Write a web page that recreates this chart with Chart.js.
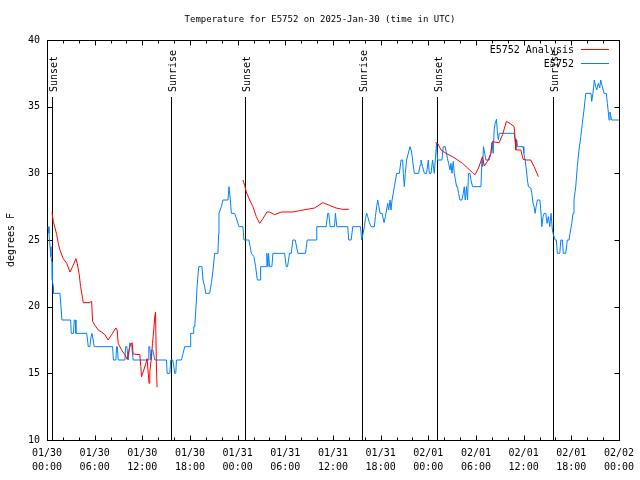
<!DOCTYPE html>
<html>
<head>
<meta charset="utf-8">
<script src="https://cdn.jsdelivr.net/npm/chart.js@4"></script>
<style>
  html, body { margin: 0; padding: 0; background: #fff; }
  canvas { display: block; }
</style>
</head>
<body>
<canvas id="c" width="640" height="480"></canvas>
<script>
// ---- data (hours since 2025-01-30 00:00 UTC) ----
const tickDays = ['01/30','01/30','01/30','01/30','01/31','01/31','01/31','01/31','02/01','02/01','02/01','02/01','02/02'];
const tickTimes = ['00:00','06:00','12:00','18:00','00:00','06:00','12:00','18:00','00:00','06:00','12:00','18:00','00:00'];

const eventHours = [0.67, 15.67, 24.97, 39.67, 49.05, 63.75];
const eventLabels = ['Sunset','Sunrise','Sunset','Sunrise','Sunset','Sunrise'];

const obsHours = [0.13,0.25,0.38,0.50,0.63,0.67,0.79,0.82,1.63,1.76,1.88,2.98,3.05,3.33,3.43,3.56,3.64,4.99,5.11,5.19,5.40,5.53,5.65,5.82,5.94,8.26,8.36,8.67,8.76,8.86,8.96,9.80,9.89,10.05,10.22,10.43,10.68,10.84,12.73,12.82,12.94,13.07,13.16,13.32,13.57,15.04,15.12,15.46,15.58,15.83,15.96,16.08,16.21,16.30,16.93,17.13,17.34,18.06,18.09,18.38,18.47,18.60,18.81,18.89,19.10,19.51,19.64,19.85,19.98,20.48,20.70,20.90,21.11,21.52,21.61,21.65,21.95,22.15,22.78,22.91,23.08,23.21,23.62,23.91,24.16,24.67,24.79,25.42,25.72,26.05,26.26,26.48,26.85,26.89,27.61,27.68,27.81,27.89,28.02,28.31,28.44,29.91,30.12,30.28,30.53,30.75,30.95,31.25,31.58,32.54,32.76,33.89,33.96,35.14,35.35,35.47,35.65,36.19,36.31,36.48,37.86,37.99,38.29,38.49,39.46,39.62,39.79,39.96,40.08,40.25,40.37,40.59,40.80,41.21,41.34,41.50,41.63,41.75,41.93,42.18,42.43,42.60,42.89,43.01,43.19,43.31,43.44,43.73,44.02,44.36,44.57,44.77,44.86,44.98,45.11,45.27,45.52,45.70,45.90,46.02,46.24,46.78,46.96,47.08,47.28,47.50,47.78,48.00,48.12,48.34,48.54,48.75,48.88,49.04,49.17,49.72,49.88,50.13,50.26,50.42,50.55,50.73,50.85,50.98,51.14,51.27,51.39,51.56,51.68,51.81,51.98,52.23,52.40,52.53,52.65,52.81,52.94,53.06,53.24,53.37,53.57,54.63,54.75,54.83,54.95,55.13,55.25,55.67,55.88,56.00,56.17,56.29,56.42,56.58,56.71,56.83,56.92,58.81,58.93,59.02,59.14,59.22,59.94,60.02,60.19,60.35,60.48,60.60,60.90,61.03,61.19,61.32,61.44,61.57,61.73,62.04,62.16,62.29,62.45,62.58,62.79,62.95,63.12,63.29,63.45,63.62,63.75,63.96,64.12,64.25,64.55,64.68,64.88,65.00,65.30,65.50,65.72,65.84,66.06,66.22,66.34,66.56,66.76,66.97,67.19,67.39,67.60,67.82,68.23,68.48,68.57,68.73,68.90,69.07,69.20,69.40,69.58,69.70,69.91,70.12,70.41,70.54,70.66,70.75,70.87,71.08,72.00];
const obsTemps = [26,25.5,24.5,23.75,23.3,22,21.5,21,21,20,19,19,18,18,19,19,18,18,17.5,17,17,17.7,18,17.5,17,17,16,16,17,17,16,16,17,17,16,17.3,17,16,16,17,17,16,16.75,16.75,16,16,15,15,16,16,15.5,15,15,16,16,16.5,17,17,18,18,18.5,18.5,20.5,21.5,23,23,22,21.5,21,21,21.8,22.75,24,24,25.5,27,27.5,28,28,29,28,27,27,26.5,26,26,25,25,24,23.75,23,22,22,23,23,24,23,24,23,23,24,24,23,23,24,24,25,25,24,24,25,25,26,26,27,27,26,26,27,26,26,25,25,26,26,25,25.5,26,26.6,27,26.75,26.3,26,26,26.75,27.5,28,27.6,27,27,26.3,26.75,27.75,27.25,28,27.25,28,29,30,30,31,31,30,29,30,31,31.6,32,31.6,31,30,30,30.6,31,30.5,30,30,31,30,30,31,30,31,32.25,31,31,32,32,31.6,31.1,30.75,30.25,30.75,30,30.9,30,29.6,29,29,28.5,28,28,28.5,29,28,29,28,30,30,29.5,29,29,31,30.5,32,31.4,31,31,31.5,32.3,31.5,33.25,33.75,34.05,33,32.5,33,33,32.5,32,32.5,32,32,31.5,31,30.25,29.5,29,28.9,28.5,27.75,27.5,27,27.5,28,28,27.25,26,26.75,27,27,26.25,26.75,26,27,25.75,25.4,25,25,24,24,25,25,24,24,25,25,25.5,26.25,27,28,29,30.5,31.75,32.75,33.75,34.75,36,36,36,35.4,36,37,36.5,36.25,36.75,36.4,37,36.5,36,36,35.25,34.6,34,34.6,34,34];

const anaHours = [0.63,0.79,1.01,1.22,1.42,1.63,2.05,2.48,2.89,3.30,3.64,3.81,4.06,4.23,4.49,4.56,5.32,5.62,5.74,6.03,6.45,6.87,7.29,7.70,8.13,8.67,8.83,8.96,9.39,9.80,10.09,10.43,10.72,10.84,11.69,11.81,11.90,12.19,12.44,12.60,12.85,12.94,13.16,13.28,13.44,13.57,13.66,13.78,13.86,
  19.0,
  24.67,24.88,25.09,25.51,25.92,26.35,26.76,27.18,27.68,28.02,28.65,29.49,30.95,31.79,33.68,34.72,35.56,36.40,37.23,37.99,
  43.0,
  48.88,49.17,49.60,50.22,51.05,51.68,52.31,52.94,53.57,53.90,54.32,54.82,55.04,55.45,55.88,56.08,56.29,56.92,57.34,57.84,58.39,58.81,58.93,59.02,59.65,59.94,60.35,60.90,61.32,61.86];
const anaTemps = [27.05,26.4,25.9,25.4,24.75,24.25,23.6,23.25,22.6,23.1,23.6,23.25,22.4,21.5,20.6,20.3,20.3,20.4,18.9,18.6,18.25,18.1,17.9,17.5,17.9,18.4,18.25,17.25,16.75,16.4,16.05,17,17.3,16.45,16.4,15.5,14.75,15.25,15.75,16.1,14.25,15.1,16.25,17.25,18.25,19.25,19.6,15.4,13.95,
  null,
  29.5,29.1,28.6,28.0,27.5,26.75,26.25,26.6,27.1,27.1,26.9,27.1,27.1,27.2,27.4,27.8,27.6,27.4,27.3,27.3,
  null,
  32.3,32.25,31.75,31.5,31.25,31,30.75,30.4,30.05,29.9,30.4,31.25,30.55,30.9,31.5,32.4,32.35,32.3,32.9,33.9,33.7,33.5,32.6,31.75,31.75,31.05,31,31,30.5,29.75];

// ---- styling ----
const FONT = '"DejaVu Sans Mono", "Liberation Mono", monospace';
const RED = '#ff0000';
const BLUE = '#0080ff';
const SERIES_COLORS = [RED, BLUE];

const toPoints = (xs, ys) => xs.map((h, i) => ({ x: h, y: ys[i] }));

const framePlugin = {
  id: 'gnuFrame',
  beforeDatasetsDraw(chart) {
    const { ctx, chartArea: a, scales: { x, y } } = chart;
    ctx.save();
    ctx.strokeStyle = '#000';
    ctx.lineWidth = 1;
    ctx.fillStyle = '#000';
    ctx.font = '10px ' + FONT;
    // sunrise / sunset markers
    eventHours.forEach((h, i) => {
      const px = Math.round(x.getPixelForValue(h)) + 0.5;
      ctx.beginPath();
      ctx.moveTo(px, a.top + 57);
      ctx.lineTo(px, a.bottom);
      ctx.stroke();
      ctx.save();
      ctx.translate(px + 1.5, a.top + 52);
      ctx.rotate(-Math.PI / 2);
      ctx.textAlign = 'left';
      ctx.textBaseline = 'middle';
      ctx.fillText(eventLabels[i], 0, 0);
      ctx.restore();
    });
    // border
    const L = Math.round(a.left) + 0.5, R = Math.round(a.right) + 0.5;
    const T = Math.round(a.top) + 0.5, B = Math.round(a.bottom) + 0.5;
    ctx.strokeRect(L, T, R - L, B - T);
    // x ticks (major every 6h, minor every 2h), inward, mirrored
    ctx.beginPath();
    for (let h = 0; h <= 72; h += 2) {
      const px = Math.round(x.getPixelForValue(h)) + 0.5;
      const len = (h % 6 === 0) ? 5 : 3;
      ctx.moveTo(px, B); ctx.lineTo(px, B - len);
      ctx.moveTo(px, T); ctx.lineTo(px, T + len);
    }
    // y ticks
    for (let v = 10; v <= 40; v += 5) {
      const py = Math.round(y.getPixelForValue(v)) + 0.5;
      ctx.moveTo(L, py); ctx.lineTo(L + 5, py);
      ctx.moveTo(R, py); ctx.lineTo(R - 5, py);
    }
    ctx.stroke();
    ctx.restore();
  },
  afterDatasetsDraw(chart) {
    const { ctx, chartArea: a } = chart;
    ctx.save();
    ctx.font = '10px ' + FONT;
    ctx.textAlign = 'right';
    ctx.textBaseline = 'middle';
    chart.data.datasets.forEach((ds, i) => {
      const yy = Math.round(a.top + 10 + i * 13.5);
      ctx.fillStyle = '#000';
      ctx.fillText(ds.label, a.right - 45, yy);
      ctx.strokeStyle = SERIES_COLORS[i];
      ctx.lineWidth = 1;
      ctx.beginPath();
      ctx.moveTo(a.right - 38, yy - 0.5);
      ctx.lineTo(a.right - 10, yy - 0.5);
      ctx.stroke();
    });
    ctx.restore();
  }
};

new Chart(document.getElementById('c'), {
  type: 'line',
  data: {
    datasets: [
      {
        label: 'E5752 Analysis',
        data: toPoints(anaHours, anaTemps),
        borderColor: RED,
        backgroundColor: RED,
        borderWidth: 1,
        pointRadius: 0,
        tension: 0,
        spanGaps: false
      },
      {
        label: 'E5752',
        data: toPoints(obsHours, obsTemps),
        borderColor: BLUE,
        backgroundColor: BLUE,
        borderWidth: 1,
        pointRadius: 0,
        tension: 0
      }
    ]
  },
  options: {
    responsive: false,
    animation: false,
    devicePixelRatio: 1,
    layout: { padding: 0 },
    plugins: {
      legend: { display: false },
      tooltip: { enabled: false },
      title: {
        display: true,
        text: 'Temperature for E5752 on 2025-Jan-30 (time in UTC)',
        color: '#000',
        font: { family: FONT, size: 9, weight: 'normal', lineHeight: 1.2 },
        padding: { top: 14, bottom: 15.2 }
      }
    },
    scales: {
      x: {
        type: 'linear',
        min: 0,
        max: 72,
        grid: { display: false, drawTicks: false },
        border: { display: false },
        ticks: {
          stepSize: 6,
          autoSkip: false,
          maxRotation: 0,
          minRotation: 0,
          padding: 6,
          color: '#000',
          font: { family: FONT, size: 10, lineHeight: 1.4 },
          callback: (v) => {
            const i = Math.round(v / 6);
            return [tickDays[i], tickTimes[i]];
          }
        },
        afterFit: (s) => { s.height = 40; }
      },
      y: {
        type: 'linear',
        position: 'left',
        min: 10,
        max: 40,
        grid: { display: false, drawTicks: false },
        border: { display: false },
        ticks: {
          stepSize: 5,
          padding: 7,
          color: '#000',
          font: { family: FONT, size: 10 }
        },
        title: {
          display: true,
          text: 'degrees F',
          color: '#000',
          font: { family: FONT, size: 10, lineHeight: 1.2 },
          padding: { top: 5, bottom: 0 }
        },
        afterFit: (s) => { s.width = 47; }
      },
      yRight: {
        type: 'linear',
        position: 'right',
        min: 10,
        max: 40,
        grid: { display: false, drawTicks: false },
        border: { display: false },
        ticks: { display: false },
        afterFit: (s) => { s.width = 20; }
      }
    }
  },
  plugins: [framePlugin]
});
</script>
</body>
</html>
